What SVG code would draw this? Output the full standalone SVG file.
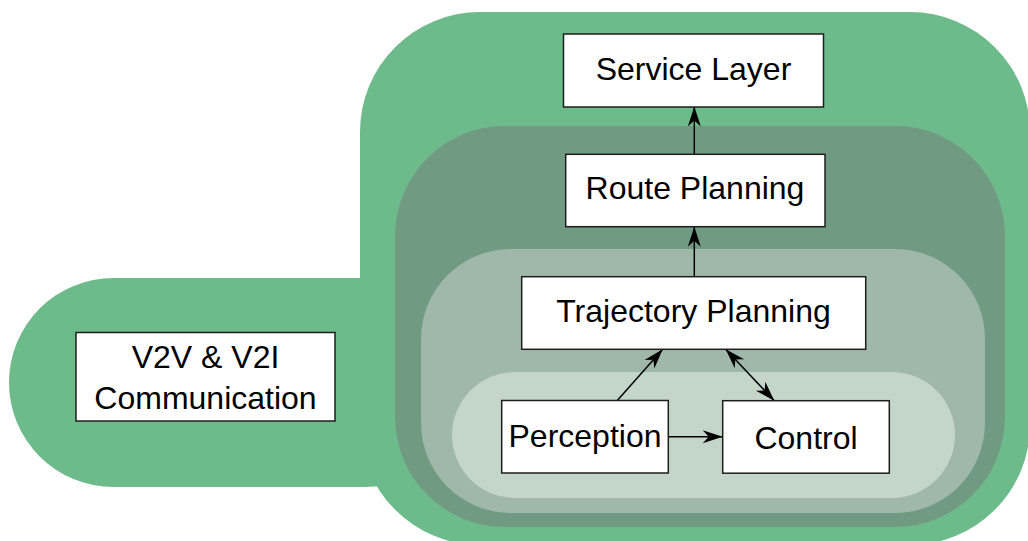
<svg xmlns="http://www.w3.org/2000/svg" width="1028" height="541" viewBox="0 0 1028 541">
  <style>
    .box { fill: #ffffff; stroke: #1e1e1e; stroke-width: 1.5; }
    .lbl { font-family: "Liberation Sans", Arial, sans-serif; font-size: 32px; fill: #000000; text-anchor: middle; }
    .conn { fill: none; stroke: #000000; stroke-width: 1.5; }
  </style>
  <defs>
    <marker id="arrow" viewBox="-21 -7 22 14" refX="0" refY="0" markerWidth="22" markerHeight="14" markerUnits="userSpaceOnUse" orient="auto-start-reverse">
      <path d="M0,0 L-20,-6.5 L-14,0 L-20,6.5 Z" fill="#000000"/>
    </marker>
  </defs>

  <g id="layers">
    <rect id="layer-v2x" x="9" y="278" width="460" height="209" rx="104.5" fill="#6dbb8b"/>
    <rect id="layer-outer" x="360" y="12" width="670" height="533" rx="120" fill="#6dbb8b"/>
    <rect id="layer-route" x="395" y="126" width="610" height="401" rx="110" fill="#719a83"/>
    <rect id="layer-trajectory" x="421" y="249" width="564" height="264" rx="90" fill="#a0b8a9"/>
    <rect id="layer-core" x="452" y="372" width="503" height="126" rx="63" fill="#c4d5ca"/>
  </g>

  <g id="connectors">
    <path class="conn" d="M694.3,154.3 L694.3,106.5" marker-end="url(#arrow)"/>
    <path class="conn" d="M694.3,276.7 L694.3,226.7" marker-end="url(#arrow)"/>
    <path class="conn" d="M617.3,400.5 L662.7,349.3" marker-end="url(#arrow)"/>
    <path class="conn" d="M725.7,349.3 L774.3,400.7" marker-start="url(#arrow)" marker-end="url(#arrow)"/>
    <path class="conn" d="M668.3,436.7 L722.7,436.7" marker-end="url(#arrow)"/>
  </g>

  <g id="node-service">
    <rect class="box" x="563.5" y="34" width="260" height="73"/>
    <text class="lbl" x="693.5" y="79.5">Service Layer</text>
  </g>
  <g id="node-route">
    <rect class="box" x="565.7" y="154.3" width="259.3" height="72.4"/>
    <text class="lbl" x="695" y="199">Route Planning</text>
  </g>
  <g id="node-trajectory">
    <rect class="box" x="521.7" y="276.7" width="344" height="72.6"/>
    <text class="lbl" x="693.5" y="321.7">Trajectory Planning</text>
  </g>
  <g id="node-v2x">
    <rect class="box" x="76" y="332.5" width="259" height="88.5"/>
    <text class="lbl" x="205.5" y="368">V2V &amp; V2I</text>
    <text class="lbl" x="205.5" y="409">Communication</text>
  </g>
  <g id="node-perception">
    <rect class="box" x="501.7" y="400.5" width="166.6" height="72.5"/>
    <text class="lbl" x="585" y="447">Perception</text>
  </g>
  <g id="node-control">
    <rect class="box" x="722.7" y="400.7" width="166.6" height="72.5"/>
    <text class="lbl" x="806" y="449">Control</text>
  </g>
</svg>
